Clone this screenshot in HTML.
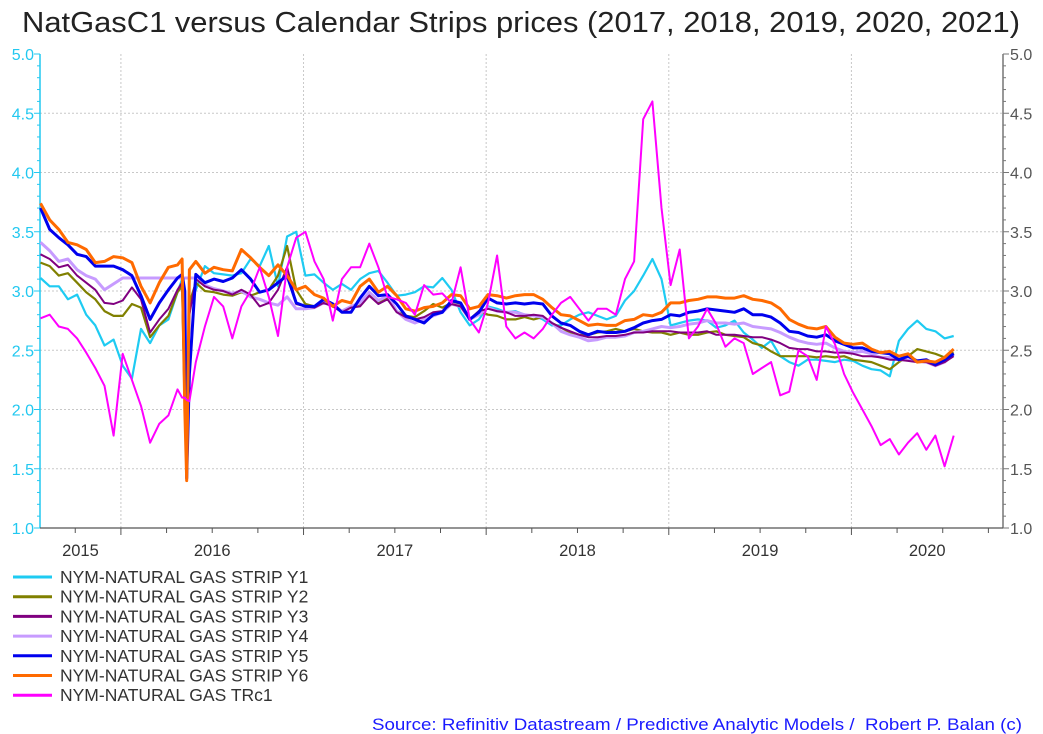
<!DOCTYPE html>
<html><head><meta charset="utf-8"><style>
html,body{margin:0;padding:0;background:#fff;}
svg{display:block;font-family:"Liberation Sans",Arial,sans-serif;}
</style></head><body>
<svg id="chart" width="1043" height="734" viewBox="0 0 1043 734">
<text x="22" y="32" textLength="998" lengthAdjust="spacingAndGlyphs" font-size="29" fill="#222">NatGasC1 versus Calendar Strips prices (2017, 2018, 2019, 2020, 2021)</text>
<g id="grid"></g>
<g id="axes"></g>
<g id="series"></g>
<g id="legend"></g>
<text x="372" y="730" textLength="650" lengthAdjust="spacingAndGlyphs" font-size="17" fill="#1a1aff">Source: Refinitiv Datastream / Predictive Analytic Models /&#160; Robert P. Balan (c)</text>
</svg>
<script>
const dates=[2015.56,2015.61,2015.66,2015.71,2015.76,2015.81,2015.86,2015.91,2015.96,2016.01,2016.06,2016.11,2016.16,2016.21,2016.26,2016.31,2016.335,2016.35,2016.36,2016.375,
2016.41,2016.46,2016.51,2016.56,2016.61,2016.66,2016.71,2016.76,2016.81,2016.86,2016.91,2016.96,2017.01,2017.06,2017.11,2017.16,2017.21,2017.26,2017.31,2017.36,2017.41,2017.46,2017.51,2017.56,2017.61,2017.66,2017.71,2017.76,2017.81,2017.86,2017.91,2017.96,2018.01,2018.06,2018.11,2018.16,2018.21,2018.26,2018.31,2018.36,2018.41,2018.46,2018.51,2018.56,2018.61,2018.66,2018.71,2018.76,2018.81,2018.86,2018.91,2018.96,2019.01,2019.06,2019.11,2019.16,2019.21,2019.26,2019.31,2019.36,2019.41,2019.46,2019.51,2019.56,2019.61,2019.66,2019.71,2019.76,2019.81,2019.86,2019.91,2019.96,2020.01,2020.06,2020.11,2020.16,2020.21,2020.26,2020.31,2020.36,2020.41,2020.46,2020.51,2020.56];
const y1=[3.11,3.04,3.04,2.93,2.97,2.8,2.71,2.54,2.59,2.37,2.26,2.68,2.56,2.71,2.76,2.99,3.1,2.0,1.42,2.9,
3.01,3.21,3.15,3.14,3.13,3.15,3.27,3.21,3.38,3.04,3.46,3.5,3.13,3.14,3.07,3.01,3.06,3.01,3.1,3.15,3.17,3.07,2.96,2.97,2.99,3.04,3.03,3.11,3.01,2.82,2.71,2.76,2.87,2.85,2.82,2.83,2.8,2.79,2.76,2.71,2.71,2.76,2.8,2.82,2.79,2.76,2.79,2.92,3.0,3.13,3.27,3.1,2.71,2.73,2.75,2.76,2.75,2.69,2.71,2.75,2.65,2.59,2.52,2.58,2.45,2.4,2.37,2.42,2.42,2.41,2.4,2.42,2.41,2.37,2.34,2.33,2.28,2.58,2.68,2.75,2.68,2.66,2.6,2.62];
const y2=[3.24,3.21,3.13,3.15,3.07,2.99,2.93,2.83,2.79,2.79,2.89,2.86,2.61,2.71,2.79,2.99,3.04,2.0,1.42,2.9,
3.07,3.0,2.99,2.97,2.96,2.99,2.96,2.99,3.01,3.13,3.38,3.01,2.89,2.87,2.91,2.89,2.83,2.87,2.89,2.97,2.9,2.94,2.83,2.79,2.78,2.83,2.89,2.86,2.9,2.89,2.76,2.83,2.8,2.79,2.76,2.76,2.78,2.76,2.78,2.73,2.69,2.65,2.63,2.63,2.65,2.66,2.68,2.66,2.68,2.66,2.65,2.65,2.63,2.65,2.63,2.63,2.65,2.66,2.63,2.62,2.61,2.56,2.54,2.49,2.45,2.45,2.45,2.45,2.44,2.45,2.44,2.45,2.42,2.41,2.4,2.37,2.34,2.4,2.45,2.51,2.49,2.47,2.44,2.48];
const y3=[3.31,3.27,3.2,3.22,3.13,3.07,3.01,2.9,2.89,2.92,3.03,2.93,2.65,2.76,2.85,3.01,3.07,2.0,1.42,2.8,
3.1,3.04,3.01,3.0,2.97,3.01,2.97,2.87,2.9,3.01,3.2,2.89,2.87,2.86,2.9,2.87,2.82,2.86,2.87,2.96,2.89,2.93,2.82,2.78,2.76,2.78,2.82,2.83,2.89,2.87,2.76,2.83,2.85,2.83,2.82,2.79,2.79,2.8,2.79,2.73,2.69,2.66,2.63,2.61,2.61,2.62,2.62,2.63,2.65,2.65,2.66,2.66,2.66,2.65,2.65,2.65,2.66,2.63,2.63,2.63,2.62,2.61,2.61,2.59,2.56,2.52,2.51,2.51,2.49,2.49,2.48,2.48,2.47,2.45,2.45,2.44,2.42,2.42,2.41,2.4,2.4,2.37,2.4,2.45];
const y4=[3.41,3.34,3.25,3.27,3.18,3.13,3.1,3.01,3.06,3.11,3.11,3.11,3.11,3.11,3.11,3.11,3.11,3.11,3.11,3.11,
3.11,3.05,3.02,3.0,2.98,3.0,2.95,2.93,2.9,2.88,2.95,2.85,2.85,2.86,2.9,2.88,2.83,2.87,2.9,2.99,2.92,2.96,2.83,2.76,2.73,2.76,2.79,2.82,2.89,2.87,2.76,2.8,2.86,2.83,2.82,2.82,2.8,2.79,2.78,2.73,2.66,2.63,2.61,2.58,2.59,2.61,2.61,2.62,2.65,2.66,2.68,2.7,2.69,2.7,2.72,2.73,2.75,2.73,2.73,2.72,2.73,2.7,2.69,2.68,2.65,2.61,2.58,2.56,2.55,2.56,2.52,2.49,2.48,2.49,2.47,2.44,2.44,2.42,2.42,2.41,2.4,2.37,2.4,2.47];
const y5=[3.7,3.52,3.45,3.39,3.31,3.29,3.21,3.21,3.21,3.18,3.13,2.96,2.76,2.9,3.01,3.11,3.14,3.0,1.42,2.3,
3.14,3.07,3.1,3.08,3.11,3.18,3.1,2.99,3.01,3.07,3.13,2.9,2.87,2.87,2.93,2.89,2.82,2.82,2.94,3.04,2.96,2.97,2.89,2.79,2.76,2.73,2.8,2.82,2.92,2.9,2.76,2.82,2.94,2.9,2.89,2.9,2.89,2.9,2.89,2.79,2.73,2.71,2.66,2.63,2.66,2.65,2.65,2.66,2.69,2.73,2.75,2.76,2.8,2.79,2.82,2.83,2.85,2.84,2.83,2.82,2.85,2.8,2.8,2.78,2.73,2.66,2.65,2.62,2.61,2.63,2.58,2.55,2.52,2.52,2.49,2.48,2.47,2.42,2.45,2.41,2.42,2.38,2.42,2.47];
const y6=[3.74,3.6,3.52,3.41,3.39,3.35,3.24,3.25,3.29,3.28,3.24,3.04,2.9,3.07,3.2,3.22,3.27,2.0,1.4,3.18,
3.25,3.15,3.2,3.18,3.17,3.35,3.28,3.2,3.13,3.22,3.13,3.01,3.04,2.97,2.94,2.87,2.92,2.9,3.04,3.1,2.99,3.04,2.96,2.85,2.83,2.86,2.87,2.9,2.97,2.96,2.85,2.87,2.97,2.96,2.94,2.96,2.97,2.97,2.93,2.86,2.8,2.79,2.75,2.71,2.72,2.71,2.71,2.75,2.76,2.8,2.79,2.82,2.9,2.9,2.92,2.93,2.95,2.95,2.94,2.94,2.96,2.93,2.92,2.9,2.85,2.76,2.72,2.69,2.68,2.7,2.61,2.56,2.55,2.56,2.51,2.48,2.49,2.45,2.47,2.4,2.41,2.4,2.44,2.51];
const trc1=[2.77,2.8,2.7,2.68,2.6,2.48,2.35,2.2,1.78,2.47,2.25,2.03,1.72,1.88,1.95,2.17,2.1,2.1,2.08,2.07,
2.4,2.7,2.95,2.87,2.6,2.87,3.0,3.2,2.95,2.62,3.2,3.45,3.5,3.25,3.1,2.75,3.1,3.2,3.2,3.4,3.2,2.95,2.93,2.9,2.8,3.05,2.97,2.98,2.9,3.2,2.76,2.65,2.9,3.3,2.7,2.6,2.65,2.6,2.68,2.8,2.9,2.95,2.85,2.75,2.85,2.85,2.8,3.1,3.25,4.45,4.6,3.7,3.05,3.35,2.6,2.7,2.85,2.72,2.53,2.6,2.56,2.3,2.35,2.4,2.12,2.15,2.5,2.45,2.25,2.7,2.55,2.3,2.14,2.0,1.86,1.7,1.75,1.62,1.72,1.8,1.66,1.78,1.52,1.78];
const yTicks=[1.0,1.5,2.0,2.5,3.0,3.5,4.0,4.5,5.0];
const yearLabels=["2015","2016","2017","2018","2019","2020"];
const yearStarts=[2015,2016,2017,2018,2019,2020,2021];

const X0=40,X1=1003,Y0=528,Y1=54;
const T0=2015.557,T1=2020.83,VMIN=1,VMAX=5;
function xs(t){return X0+(t-T0)/(T1-T0)*(X1-X0);}
function ys(v){return Y0-(v-VMIN)/(VMAX-VMIN)*(Y0-Y1);}
const NS='http://www.w3.org/2000/svg';
function mk(tag,attrs,parent,txt){const e=document.createElementNS(NS,tag);for(const k in attrs)e.setAttribute(k,attrs[k]);if(txt!==undefined)e.textContent=txt;parent.appendChild(e);return e;}
const grid=document.getElementById('grid'),axes=document.getElementById('axes'),ser=document.getElementById('series'),leg=document.getElementById('legend');

yTicks.forEach(v=>{
  const y=ys(v);
  if(v>1&&v<5){const g=mk('line',{x1:X0,x2:X1,y1:y,y2:y,stroke:'#c8c8c8','stroke-dasharray':'2,2','stroke-width':1},grid);
  
  }
  const l=mk('text',{x:X0-6,y:y+6,'text-anchor':'end','font-size':16,fill:'#22c8f0'},axes,v.toFixed(1));
  
  
  const r=mk('text',{x:X1+7,y:y+6,'font-size':16,fill:'#555'},axes,v.toFixed(1));
  
  
});
for(let k=0;k<=40;k++){const v=1+k*0.1,y=ys(v),big=(k%5===0);
  mk('line',{x1:X0-(big?6:3),x2:X0,y1:y,y2:y,stroke:'#22c8f0'},axes);
  mk('line',{x1:X1,x2:X1+(big?6:3),y1:y,y2:y,stroke:'#777'},axes);}
yearStarts.forEach(t=>{const x=xs(t);if(x>X0&&x<X1){
  const g=mk('line',{x1:x,x2:x,y1:Y1,y2:Y0,stroke:'#c8c8c8','stroke-dasharray':'2,2'},grid);
  
  
  mk('line',{x1:x,x2:x,y1:Y0,y2:Y0+7,stroke:'#555'},axes);}
  for(let q=1;q<4;q++){const xq=xs(t+q*0.25);if(xq>X0&&xq<X1)mk('line',{x1:xq,x2:xq,y1:Y0,y2:Y0+5,stroke:'#555'},axes);}
});
yearLabels.forEach((s,i)=>{const a=Math.max(xs(yearStarts[i]),X0),b=Math.min(xs(yearStarts[i+1]),X1);
  const t=mk('text',{x:(a+b)/2,y:556,'text-anchor':'middle','font-size':16.5,fill:'#333'},axes,s);
  
  });
const la=mk('line',{x1:X0,x2:X0,y1:Y1,y2:Y0,stroke:'#22c8f0','stroke-width':1.5},axes);


const ra=mk('line',{x1:X1,x2:X1,y1:Y1,y2:Y0,stroke:'#777','stroke-width':1.5},axes);


const xa=mk('line',{x1:X0,x2:X1,y1:Y0,y2:Y0,stroke:'#555','stroke-width':1.2},axes);



const defs=[
 {vals:y1,color:'#1ecbf2',w:2.2,label:'NYM-NATURAL GAS STRIP Y1',name:'series-y1'},
 {vals:y2,color:'#808000',w:2.2,label:'NYM-NATURAL GAS STRIP Y2',name:'series-y2'},
 {vals:y4,color:'#c79bff',w:3,label:'NYM-NATURAL GAS STRIP Y4',name:'series-y4'},
 {vals:y3,color:'#800080',w:2,label:'NYM-NATURAL GAS STRIP Y3',name:'series-y3'},
 {vals:y5,color:'#0000ee',w:3,label:'NYM-NATURAL GAS STRIP Y5',name:'series-y5'},
 {vals:y6,color:'#ff6a00',w:3,label:'NYM-NATURAL GAS STRIP Y6',name:'series-y6'},
 {vals:trc1,color:'#ff00ff',w:2,label:'NYM-NATURAL GAS TRc1',name:'series-trc1'}];
defs.forEach(d=>{
  const pts=d.vals.map((v,i)=>xs(dates[i]).toFixed(1)+','+ys(v).toFixed(1)).join(' ');
  const p=mk('polyline',{points:pts,fill:'none',stroke:d.color,'stroke-width':d.w,'stroke-linejoin':'round'},ser);
  
  
});
const order=[0,1,3,2,4,5,6];
order.forEach((di,i)=>{const d=defs[di],y=577+i*19.7;
  const g=mk('g',{},leg);
  
  
  mk('line',{x1:13,x2:52,y1:y,y2:y,stroke:d.color,'stroke-width':3},g);
  mk('text',{x:60,y:y+6,'font-size':17.5,fill:'#333'},g,d.label);});
</script>
</body></html>
